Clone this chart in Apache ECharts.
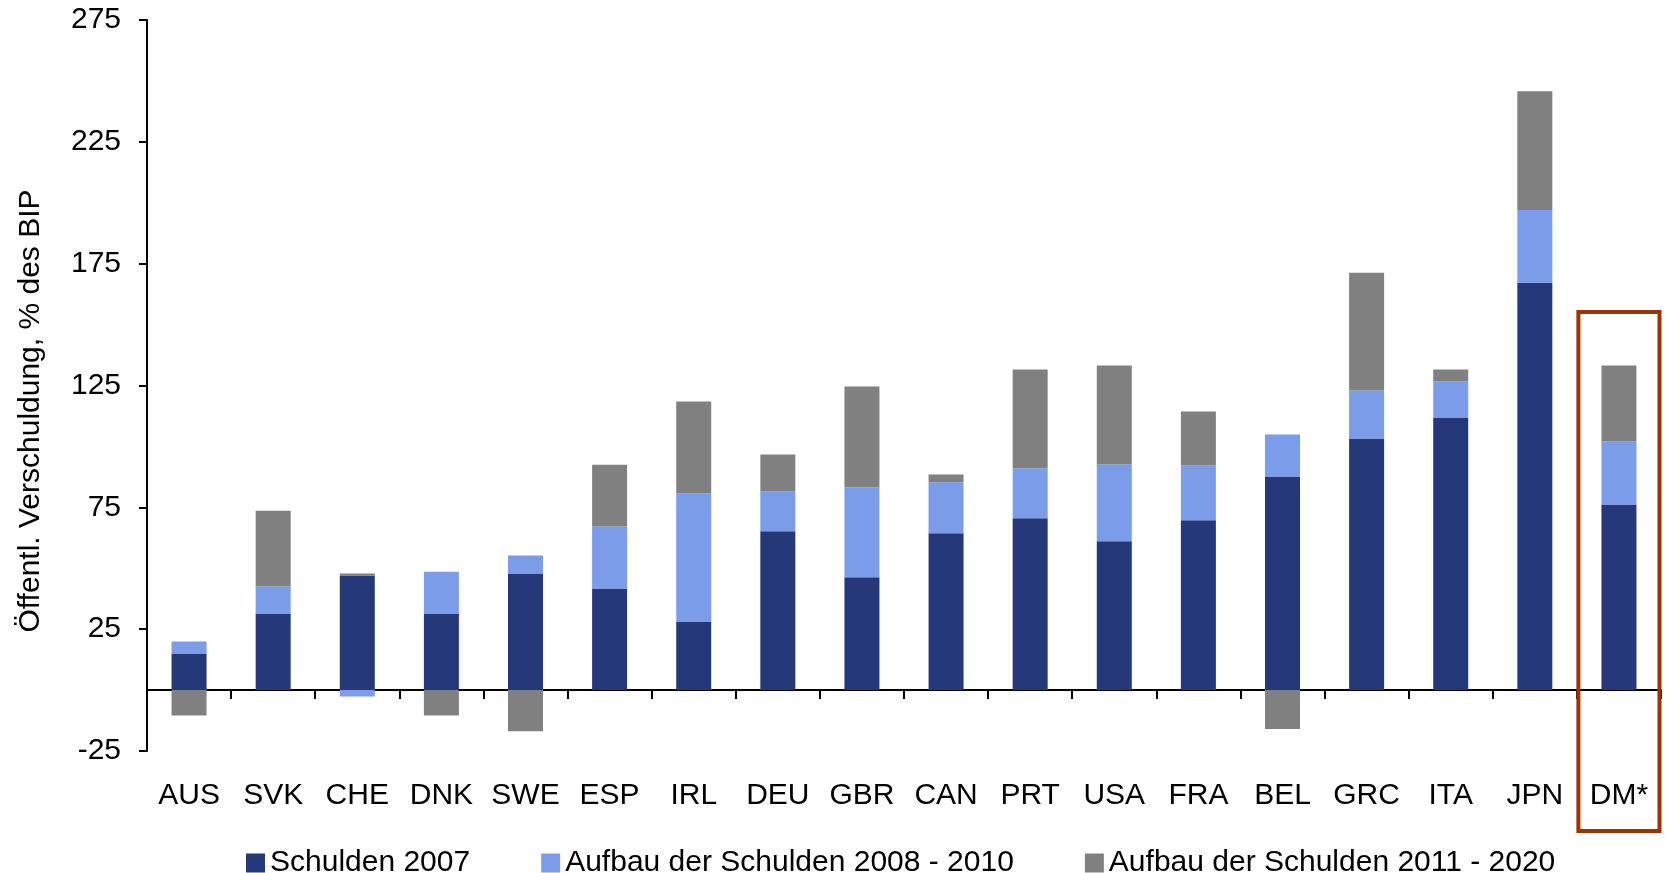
<!DOCTYPE html>
<html>
<head>
<meta charset="utf-8">
<script src="https://cdn.jsdelivr.net/npm/echarts@6/dist/echarts.min.js"></script>
<style>
  html, body { margin: 0; padding: 0; background: #fff; }
  #chart { width: 1665px; height: 873px; }
</style>
</head>
<body>
<div id="chart"></div>
<script>
// Länder
const countries = ['AUS', 'SVK', 'CHE', 'DNK', 'SWE', 'ESP', 'IRL', 'DEU', 'GBR', 'CAN', 'PRT', 'USA', 'FRA', 'BEL', 'GRC', 'ITA', 'JPN', 'DM*']
// Schulden 2007, % des BIP
const debt2007 = [15.0, 31.4, 47.0, 31.4, 47.8, 41.7, 27.9, 65.2, 46.3, 64.4, 70.5, 61.1, 69.7, 87.7, 103.3, 111.9, 167.2, 76.2]
// Aufbau 2008 - 2010
const build0810 = [4.9, 11.1, -2.6, 17.2, 7.4, 25.4, 52.8, 16.4, 36.9, 20.9, 20.5, 31.5, 22.5, 17.2, 19.6, 14.7, 29.8, 25.8]
// Aufbau 2011 - 2020
const build1120 = [-10.4, 31.1, 0.8, -10.4, -16.9, 25.4, 37.7, 15.1, 41.4, 3.2, 40.6, 40.6, 22.1, -16.0, 48.4, 5.0, 48.8, 31.2]
const yTicks = [-25, 25, 75, 125, 175, 225, 275]
const seriesNames = ['Schulden 2007', 'Aufbau der Schulden 2008 - 2010', 'Aufbau der Schulden 2011 - 2020']

const font = '"Liberation Sans", Arial, sans-serif'
let chartDom = document.getElementById('chart')
let mychart = echarts.init(chartDom, null, { renderer: 'canvas' })

let barSerie = (name, data, color) => ({
    name: name,
    type: 'bar',
    stack: 'total',
    data: data,
    barWidth: 35,
    xAxisIndex: 0,
    itemStyle: { color: color },
    emphasis: { disabled: true }
})

let options = {
    animation: false,
    textStyle: { fontFamily: font },
    grid: { left: 147, right: 4, top: 20, bottom: 122, containLabel: false },
    legend: {
        data: seriesNames,
        left: 241,
        top: 843,
        itemWidth: 19,
        itemHeight: 19,
        itemGap: 71,
        icon: 'rect',
        selectedMode: false,
        textStyle: { fontSize: 30, color: '#000', fontFamily: font }
    },
    xAxis: [
        {
            // Nulllinie mit Ticks zwischen den Kategorien
            type: 'category',
            data: countries,
            position: 'bottom',
            axisLine: { show: true, onZero: true, lineStyle: { color: '#000', width: 2 } },
            axisTick: { show: true, length: 9, lineStyle: { color: '#000', width: 2 } },
            axisLabel: { show: false },
            splitLine: { show: false }
        },
        {
            // Beschriftung unten
            type: 'category',
            data: countries,
            position: 'bottom',
            axisLine: { show: false, onZero: false },
            axisTick: { show: false },
            axisLabel: { show: true, margin: 30, fontSize: 30, color: '#000', fontFamily: font, interval: 0 },
            splitLine: { show: false }
        }
    ],
    yAxis: {
        type: 'value',
        min: -25,
        max: 275,
        axisLine: { show: true, lineStyle: { color: '#000', width: 2 } },
        axisTick: { show: true, length: 8, customValues: yTicks, lineStyle: { color: '#000', width: 2 } },
        axisLabel: { margin: 26, fontSize: 30, color: '#000', fontFamily: font, customValues: yTicks },
        splitLine: { show: false }
    },
    series: [
        barSerie(seriesNames[0], debt2007, '#253879'),
        barSerie(seriesNames[1], build0810, '#7a9ce9'),
        barSerie(seriesNames[2], build1120, '#808080')
    ]
}
mychart.setOption(options)

// Achsentitel und Rahmen um DM*
let addGraphics = () => {
    let last = countries.length - 1
    let p1 = mychart.convertToPixel({ xAxisIndex: 0, yAxisIndex: 0 }, [last, 156])
    let p0 = mychart.convertToPixel({ xAxisIndex: 0, yAxisIndex: 0 }, [last - 1, -25])
    let pb = mychart.convertToPixel({ xAxisIndex: 0, yAxisIndex: 0 }, [last, -25])
    let band = p1[0] - p0[0]
    let w = band - 3
    mychart.setOption({
        graphic: [
            {
                type: 'text',
                x: 31,
                y: 411,
                rotation: Math.PI / 2,
                style: {
                    text: 'Öffentl. Verschuldung, % des BIP',
                    fontSize: 30,
                    fontFamily: font,
                    fill: '#000',
                    align: 'center',
                    verticalAlign: 'middle'
                }
            },
            {
                type: 'rect',
                shape: { x: p1[0] - w / 2, y: p1[1] + 2, width: w, height: (pb[1] + 80) - (p1[1] + 2) },
                style: { fill: 'none', stroke: '#993300', lineWidth: 4 },
                z: 10
            }
        ]
    })
}
addGraphics()

window.addEventListener('resize', () => {
    mychart?.resize()
})
</script>
</body>
</html>
